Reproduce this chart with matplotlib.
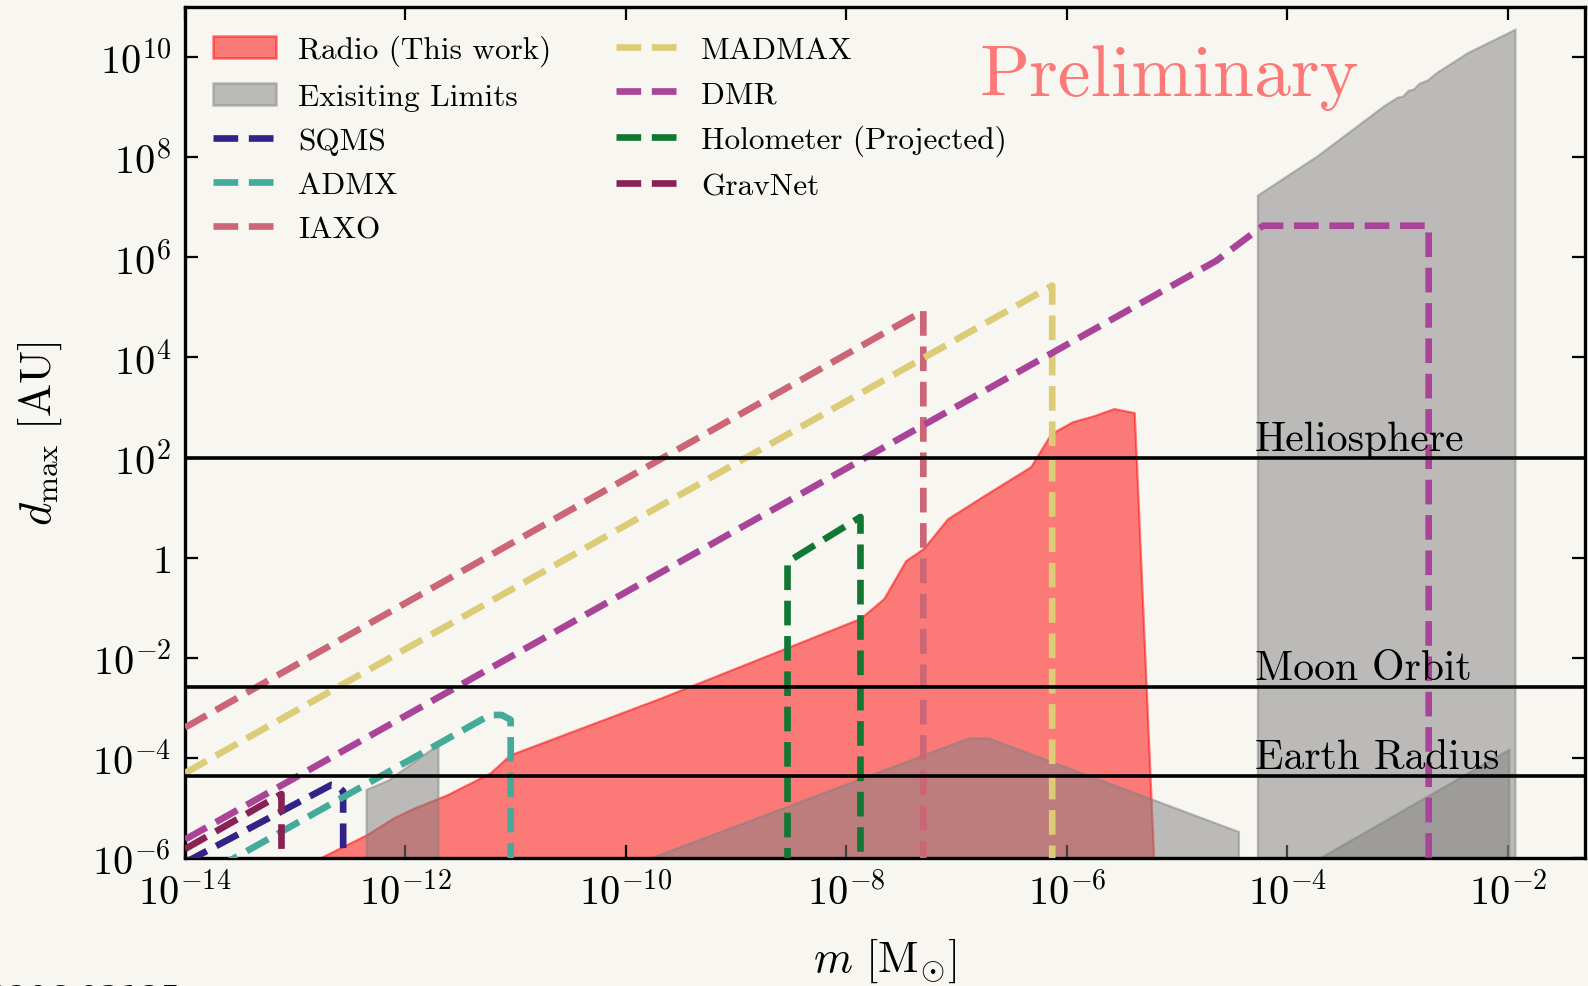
import math
import matplotlib
matplotlib.use("Agg")
import matplotlib.pyplot as plt
from matplotlib.ticker import FixedLocator, FuncFormatter
from matplotlib.lines import Line2D
from matplotlib.patches import Patch

plt.rcParams["font.family"] = "serif"
plt.rcParams["font.serif"] = ["cmr10"]
plt.rcParams["mathtext.fontset"] = "cm"
plt.rcParams["axes.unicode_minus"] = False
plt.rcParams["axes.formatter.use_mathtext"] = True

BG = "#f7f6f1"

# --- Radio (This work) ---
radio_m = [1.67e-13, 4.44e-13, 7.69e-13, 1.17e-12, 2.37e-12, 5.85e-12, 8.89e-12,
           3.85e-11, 2.05e-10, 1.34e-8, 2.18e-8, 3.44e-8, 4.98e-8, 8.28e-8,
           1.77e-7, 4.70e-7, 7.14e-7, 1.12e-6, 1.71e-6, 2.67e-6, 4.08e-6, 6.11e-6]
radio_d = [1e-6, 2.92e-6, 6.25e-6, 9.77e-6, 1.82e-5, 4.98e-5, 1.15e-4,
           3.89e-4, 1.56e-3, 6.14e-2, 0.152, 0.869, 1.52, 6.0,
           17.4, 65.8, 298, 519, 673, 951, 789, 1e-6]

# --- existing limits (grey) ---
lim1_m = [4.44e-13, 4.44e-13, 7.0e-13, 1.99e-12, 1.99e-12]
lim1_d = [1e-8, 2.29e-5, 3.5e-5, 1.82e-4, 1e-8]

lim2_m = [1.72e-10, 1.29e-7, 1.95e-7, 3.63e-5, 3.63e-5]
lim2_d = [1e-6, 2.45e-4, 2.45e-4, 3.3e-6, 1e-8]

lim3_m = [5.4e-5, 5.4e-5, 1.89e-4, 7.6e-4, 1.0e-3, 1.12e-3, 1.26e-3, 1.41e-3,
          1.58e-3, 1.9e-3, 2.24e-3, 2.82e-3, 4.35e-3, 1.17e-2, 1.17e-2]
lim3_d = [1e-8, 1.7e7, 1.05e8, 1.05e9, 1.54e9, 1.62e9, 2.12e9, 2.25e9,
          2.92e9, 3.45e9, 4.7e9, 6.5e9, 1.2e10, 3.5e10, 1e-8]

lim4_m = [2.01e-4, 1.03e-2, 1.03e-2]
lim4_d = [1e-6, 1.45e-4, 1e-8]

# --- projected experiments (dashed) ---
sqms_m = [1e-14, 2.13e-13, 2.4e-13, 2.72e-13, 2.72e-13]
sqms_d = [8.1e-7, 2.89e-5, 2.8e-5, 2.15e-5, 1e-7]

admx_m = [1e-14, 5.85e-12, 7.46e-12, 9.0e-12, 9.0e-12]
admx_d = [2.8e-7, 7.2e-4, 7.2e-4, 5.75e-4, 1e-7]

iaxo_m = [1e-14, 4.98e-8, 4.98e-8]
iaxo_d = [4.04e-4, 8.5e4, 1e-7]

madmax_m = [1e-14, 7.35e-7, 7.35e-7]
madmax_d = [4.98e-5, 2.72e5, 1e-7]

dmr_m = [1e-14, 2.26e-5, 6.0e-5, 1.91e-3, 1.91e-3]
dmr_d = [2.34e-6, 8.5e5, 4.27e6, 4.27e6, 1e-7]

holo_m = [2.92e-9, 2.92e-9, 1.34e-8, 1.34e-8]
holo_d = [1e-7, 0.82, 6.5, 1e-7]

gravnet_m = [1e-14, 7.5e-14, 7.5e-14]
gravnet_d = [1.51e-6, 1.9e-5, 1e-7]

# reference distances [AU]
ref_names = ["Heliosphere", "Moon Orbit", "Earth Radius"]
ref_dist = [100.0, 2.57e-3, 4.26e-5]

x_ticks = [1e-14, 1e-12, 1e-10, 1e-8, 1e-6, 1e-4, 1e-2]
y_ticks = [1e-6, 1e-4, 1e-2, 1, 1e2, 1e4, 1e6, 1e8, 1e10]

fig = plt.figure(figsize=(15.88, 9.87), dpi=100, facecolor=BG)
ax = fig.add_axes([0.1165, 0.1297, 0.8816, 0.8622], facecolor=BG)
ax.set_xscale("log")
ax.set_yscale("log")

# filled regions
ax.fill_between(radio_m, 1e-8, radio_d, color="red", alpha=0.5, lw=1.6, zorder=1)
for xm, yd in [(lim1_m, lim1_d), (lim2_m, lim2_d), (lim3_m, lim3_d), (lim4_m, lim4_d)]:
    ax.fill(xm, yd, color="gray", alpha=0.5, lw=1.6, zorder=2)

# dashed projections
dashed = [
    ("SQMS", sqms_m, sqms_d, "#332288"),
    ("ADMX", admx_m, admx_d, "#44aa99"),
    ("IAXO", iaxo_m, iaxo_d, "#cc6677"),
    ("MADMAX", madmax_m, madmax_d, "#ddcc77"),
    ("DMR", dmr_m, dmr_d, "#aa4499"),
    ("Holometer (Projected)", holo_m, holo_d, "#117733"),
    ("GravNet", gravnet_m, gravnet_d, "#882255"),
]
handles = [Patch(facecolor="red", edgecolor="red", alpha=0.5, lw=1.8, label="Radio (This work)"),
           Patch(facecolor="gray", edgecolor="gray", alpha=0.5, lw=1.8, label="Exisiting Limits")]
for name, xm, yd, col in dashed:
    ax.plot(xm, yd, ls="--", lw=4.8, color=col, dash_joinstyle="round", zorder=3)
    handles.append(Line2D([], [], ls="--", lw=4.8, color=col, label=name))

# reference lines
for name, d in zip(ref_names, ref_dist):
    ax.axhline(d, color="k", lw=2.6, zorder=4)
    ax.text(5.1e-5, d, name, fontsize=30, ha="left", va="bottom", zorder=5)

ax.text(0.703, 0.918, "Preliminary", transform=ax.transAxes, fontsize=53,
        color="red", alpha=0.5, ha="center", va="center")

ax.set_xlim(1e-14, 5e-2)
ax.set_ylim(1e-6, 1e11)


def fmt(v, pos):
    e = int(round(math.log10(v)))
    if e == 0:
        return "$1$"
    return r"$10^{%d}$" % e


ax.xaxis.set_major_locator(FixedLocator(x_ticks))
ax.yaxis.set_major_locator(FixedLocator(y_ticks))
ax.xaxis.set_major_formatter(FuncFormatter(fmt))
ax.yaxis.set_major_formatter(FuncFormatter(fmt))
ax.minorticks_off()
ax.tick_params(which="both", direction="in", top=True, right=True, length=9.5,
               width=1.6, labelsize=29, pad=10)
for sp in ax.spines.values():
    sp.set_linewidth(2.4)

ax.set_xlabel(r"$m\ [\mathrm{M}_{\odot}]$", fontsize=32, labelpad=17)
ax.set_ylabel(r"$d_{\mathrm{max}}\ [\mathrm{AU}]$", fontsize=32, labelpad=20)

ax.legend(handles=handles, ncol=2, loc="upper left", frameon=False, fontsize=22.5,
          handlelength=2.0, handletextpad=0.72, columnspacing=2.05, labelspacing=0.52,
          bbox_to_anchor=(-0.002, 1.004), borderaxespad=0.6)

fig.text(-0.008, 0.003, "2206.03125", fontsize=23, family="DejaVu Sans",
         ha="left", va="top")

fig.savefig("out.png", dpi=100, facecolor=BG)
